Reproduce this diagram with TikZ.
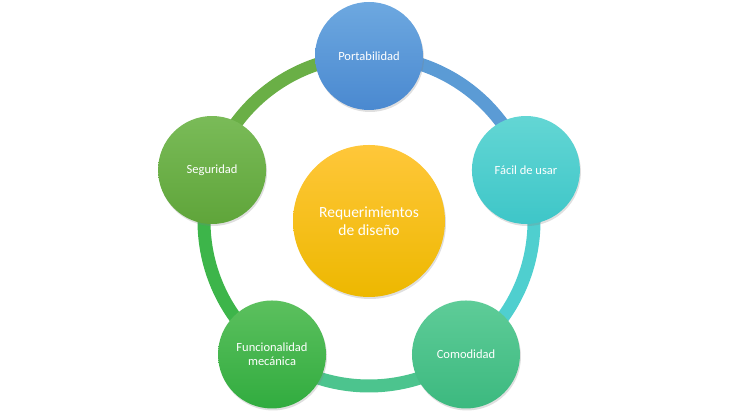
\documentclass[tikz,border=0pt]{standalone}
\usepackage{fontspec}
\setmainfont{Carlito}
\usetikzlibrary{shadows,calc}
\definecolor{cBlue}{HTML}{5B9BD5}
\definecolor{cBlueT}{HTML}{6DA8E0}
\definecolor{cBlueB}{HTML}{4A89D0}
\definecolor{cTeal}{HTML}{4FCFCF}
\definecolor{cTealT}{HTML}{63D6D4}
\definecolor{cTealB}{HTML}{3EC6C8}
\definecolor{cMint}{HTML}{4CC48E}
\definecolor{cMintT}{HTML}{5ECC98}
\definecolor{cMintB}{HTML}{3CB97F}
\definecolor{cGreen}{HTML}{3DB54A}
\definecolor{cGreenT}{HTML}{5CC05E}
\definecolor{cGreenB}{HTML}{31AC3F}
\definecolor{cOlive}{HTML}{6AAF46}
\definecolor{cOliveT}{HTML}{7ABB58}
\definecolor{cOliveB}{HTML}{5FA53A}
\definecolor{cGoldT}{HTML}{FFC73A}
\definecolor{cGoldB}{HTML}{EDB800}
\tikzset{
  x=1pt, y=1pt,
  ball/.style={circle, minimum size=108pt, inner sep=0pt, text=white,
    font=\fontsize{12.5}{14}\selectfont, align=center,
    drop shadow={opacity=0.25, shadow xshift=1pt, shadow yshift=-2pt}},
  ring/.style={line width=13pt},
}
\begin{document}
\begin{tikzpicture}
\useasboundingbox (0,0) rectangle (739,414);
\coordinate (c) at (369,193);
\coordinate (pP) at ($(c)+(90:165)$);
\coordinate (pF) at ($(c)+(18:165)$);
\coordinate (pC) at ($(c)+(-54:165)$);
\coordinate (pM) at ($(c)+(-126:165)$);
\coordinate (pS) at ($(c)+(162:165)$);
% ring arcs
\draw[ring, cBlue] (pP) arc[start angle=90, end angle=18, radius=165];
\draw[ring, cTeal] (pF) arc[start angle=18, end angle=-54, radius=165];
\draw[ring, cMint] (pC) arc[start angle=-54, end angle=-126, radius=165];
\draw[ring, cGreen] (pM) arc[start angle=-126, end angle=-198, radius=165];
\draw[ring, cOlive] (pS) arc[start angle=162, end angle=90, radius=165];
% center
\node[circle, minimum size=152pt, inner sep=0pt, text=white, align=center,
  font=\fontsize{15.5}{18}\selectfont, top color=cGoldT, bottom color=cGoldB,
  drop shadow={opacity=0.25, shadow xshift=1pt, shadow yshift=-2pt}]
  (req) at (c) {Requerimientos\\de diseño};
% outer balls
\node[ball, top color=cBlueT, bottom color=cBlueB] (por) at (pP) {Portabilidad};
\node[ball, top color=cTealT, bottom color=cTealB] (fac) at (pF) {Fácil de usar};
\node[ball, top color=cMintT, bottom color=cMintB] (com) at (pC) {Comodidad};
\node[ball, top color=cGreenT, bottom color=cGreenB] (fun) at (pM) {Funcionalidad\\mecánica};
\node[ball, top color=cOliveT, bottom color=cOliveB] (seg) at (pS) {Seguridad};
\end{tikzpicture}
\end{document}
